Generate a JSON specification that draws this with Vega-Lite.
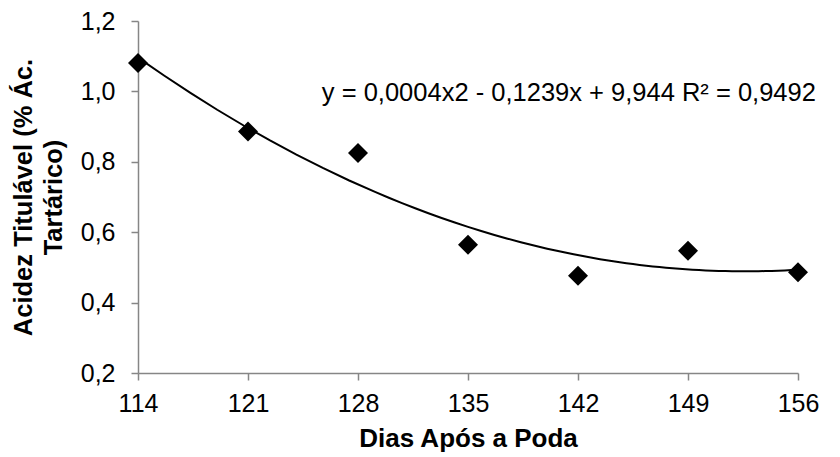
{
  "$schema": "https://vega.github.io/schema/vega-lite/v6.json",
  "width": 660,
  "height": 352,
  "autosize": "none",
  "padding": {"left": 138, "top": 21, "right": 42, "bottom": 84},
  "background": "white",
  "config": {
    "view": {"stroke": null},
    "font": "Liberation Sans",
    "axis": {
      "grid": false,
      "domainColor": "#868686",
      "domainWidth": 1.5,
      "tickColor": "#868686",
      "tickWidth": 1.5,
      "tickSize": 7,
      "labelColor": "black",
      "labelFontSize": 25,
      "titleColor": "black",
      "titleFontSize": 25.5,
      "titleFontWeight": "bold"
    }
  },
  "data": {
    "values": [
      {"dias": 114, "acidez": 1.081},
      {"dias": 121, "acidez": 0.886},
      {"dias": 128, "acidez": 0.825},
      {"dias": 135, "acidez": 0.564},
      {"dias": 142, "acidez": 0.476},
      {"dias": 149, "acidez": 0.547},
      {"dias": 156, "acidez": 0.486}
    ]
  },
  "layer": [
    {
      "transform": [
        {"regression": "acidez", "on": "dias", "method": "poly", "order": 2, "extent": [114, 156]}
      ],
      "mark": {"type": "line", "color": "black", "strokeWidth": 2},
      "encoding": {
        "x": {"field": "dias", "type": "quantitative"},
        "y": {"field": "acidez", "type": "quantitative"}
      }
    },
    {
      "mark": {"type": "point", "shape": "diamond", "filled": true, "color": "black", "size": 400, "opacity": 1},
      "encoding": {
        "x": {
          "field": "dias",
          "type": "quantitative",
          "scale": {"domain": [114, 156], "nice": false, "zero": false},
          "axis": {
            "values": [114, 121, 128, 135, 142, 149, 156],
            "labelFlush": false,
            "labelPadding": 11,
            "title": "Dias Após a Poda",
            "titleFontSize": 26,
            "titlePadding": 9
          }
        },
        "y": {
          "field": "acidez",
          "type": "quantitative",
          "scale": {"domain": [0.2, 1.2], "nice": false, "zero": false},
          "axis": {
            "values": [0.2, 0.4, 0.6, 0.8, 1.0, 1.2],
            "labelExpr": "replace(format(datum.value, '.1f'), '.', ',')",
            "labelPadding": 16,
            "title": ["Acidez Titulável (% Ác.", "Tartárico)"],
            "titleLineHeight": 30,
            "titlePadding": 14
          }
        }
      }
    },
    {
      "data": {"values": [{"dias": 125.7, "acidez": 0.995, "label": "y = 0,0004x2 - 0,1239x + 9,944 R² = 0,9492"}]},
      "mark": {"type": "text", "align": "left", "baseline": "middle", "fontSize": 25.5, "color": "black"},
      "encoding": {
        "x": {"field": "dias", "type": "quantitative"},
        "y": {"field": "acidez", "type": "quantitative"},
        "text": {"field": "label"}
      }
    }
  ]
}
